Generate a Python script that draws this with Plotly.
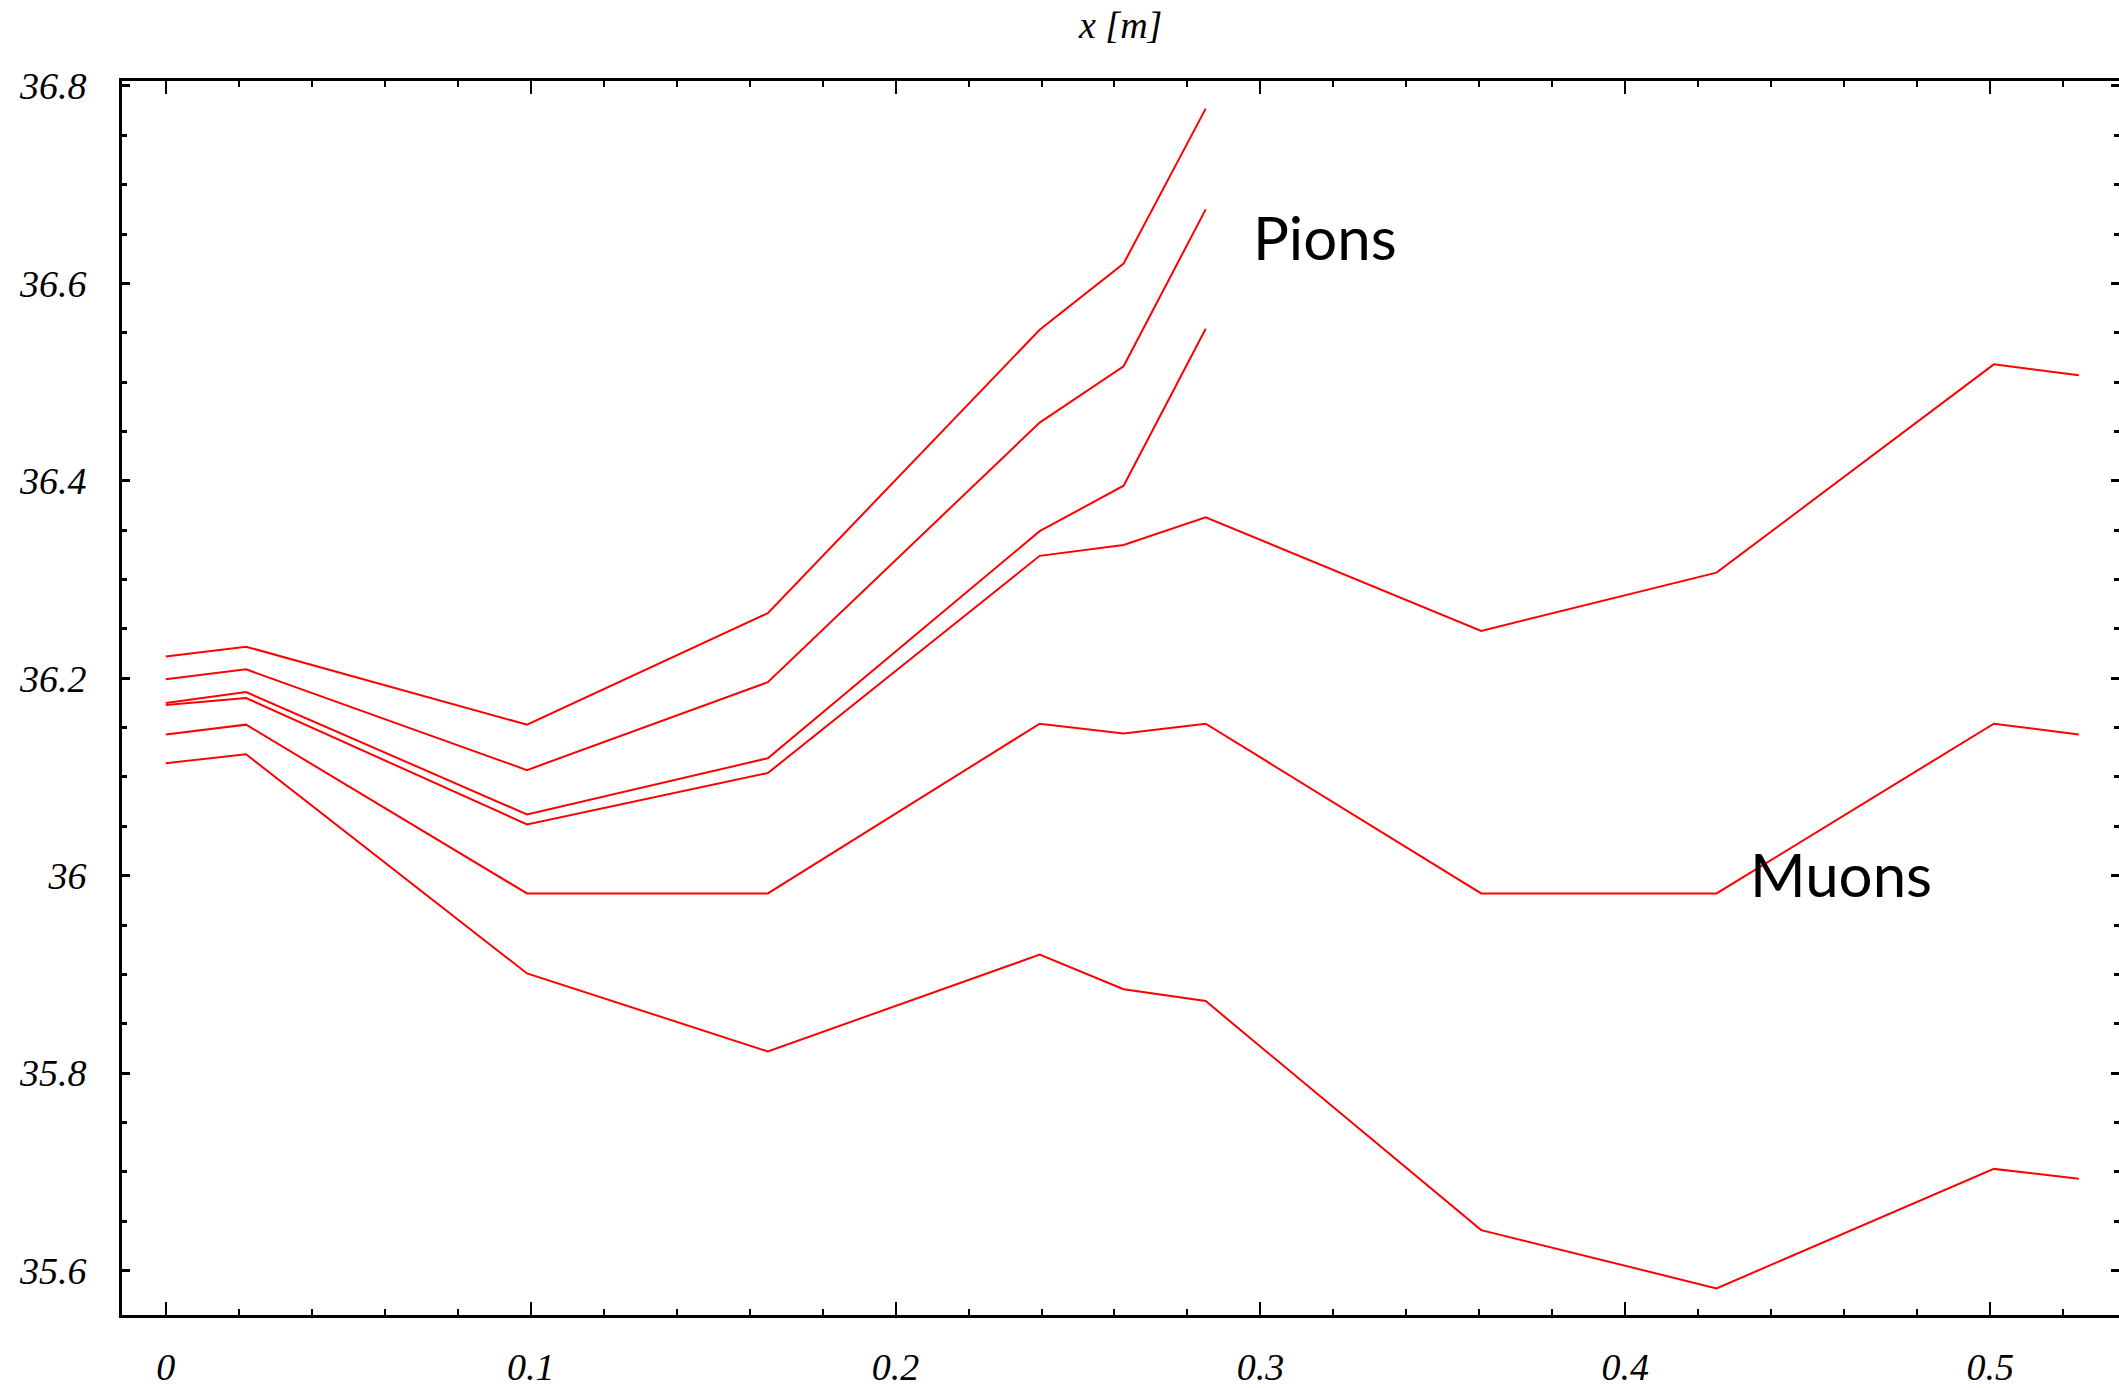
import plotly.graph_objects as go

# ---- data ----
x_pts = [0, 0.022, 0.099, 0.165, 0.2395, 0.2625, 0.285, 0.3605, 0.425, 0.501, 0.5243]

pion_1 = [36.222, 36.232, 36.153, 36.266, 36.553, 36.620, 36.777]
pion_2 = [36.199, 36.209, 36.107, 36.196, 36.459, 36.516, 36.675]
pion_3 = [36.175, 36.186, 36.062, 36.119, 36.349, 36.395, 36.554]

muon_1 = [36.173, 36.180, 36.052, 36.104, 36.324, 36.335, 36.363, 36.248, 36.307, 36.518, 36.507]
muon_2 = [36.143, 36.153, 35.982, 35.982, 36.154, 36.144, 36.154, 35.982, 35.982, 36.154, 36.143]
muon_3 = [36.114, 36.123, 35.901, 35.822, 35.920, 35.885, 35.873, 35.641, 35.582, 35.703, 35.693]

x_tickvals = [0, 0.1, 0.2, 0.3, 0.4, 0.5]
x_ticktext = ["0", "0.1", "0.2", "0.3", "0.4", "0.5"]
y_tickvals = [35.6, 35.8, 36.0, 36.2, 36.4, 36.6, 36.8]
y_ticktext = ["35.6", "35.8", "36", "36.2", "36.4", "36.6", "36.8"]

title_text = "x [m]"
label_pions = "Pions"
label_muons = "Muons"

X_RANGE = [-0.012, 0.5353]
Y_RANGE = [35.555, 36.805]

fig = go.Figure()

line_style = dict(color="#ff0000", width=2)
for ys in (pion_1, pion_2, pion_3):
    fig.add_trace(go.Scatter(x=x_pts[:len(ys)], y=ys, mode="lines", line=line_style,
                             showlegend=False, hoverinfo="skip"))
for ys in (muon_1, muon_2, muon_3):
    fig.add_trace(go.Scatter(x=x_pts[:len(ys)], y=ys, mode="lines", line=line_style,
                             showlegend=False, hoverinfo="skip"))

# invisible trace to host the right-side tick axis
fig.add_trace(go.Scatter(x=[None], y=[None], yaxis="y2", mode="lines",
                         showlegend=False, hoverinfo="skip"))

tick_font = dict(family="Liberation Serif", size=38, color="black", style="italic")

fig.update_layout(
    width=2119, height=1388,
    margin=dict(l=122, r=0, t=81, b=73, autoexpand=False),
    paper_bgcolor="white", plot_bgcolor="white",
    xaxis=dict(
        range=X_RANGE, showgrid=False, zeroline=False, automargin=False,
        showline=True, linecolor="black", linewidth=3, mirror="ticks",
        ticks="inside", ticklen=13, tickwidth=2, tickcolor="black",
        tickvals=x_tickvals, ticktext=x_ticktext, tickfont=tick_font,
        ticklabelstandoff=16,
        minor=dict(ticks="inside", dtick=0.02, tick0=0, ticklen=6, tickwidth=2,
                   tickcolor="black", showgrid=False),
    ),
    yaxis=dict(
        range=Y_RANGE, showgrid=False, zeroline=False, automargin=False,
        showline=True, linecolor="black", linewidth=3,
        ticks="inside", ticklen=8, tickwidth=3, tickcolor="black",
        tickvals=y_tickvals, ticktext=y_ticktext, tickfont=tick_font,
        ticklabelstandoff=25,
        minor=dict(ticks="inside", dtick=0.05, tick0=35.6, ticklen=5, tickwidth=3,
                   tickcolor="black", showgrid=False),
    ),
    yaxis2=dict(
        range=Y_RANGE, overlaying="y", side="right", anchor="x", automargin=False,
        showgrid=False, zeroline=False, showline=False,
        ticks="inside", ticklen=8, tickwidth=3, tickcolor="black",
        tickvals=y_tickvals, showticklabels=False,
        minor=dict(ticks="inside", dtick=0.05, tick0=35.6, ticklen=5, tickwidth=3,
                   tickcolor="black", showgrid=False),
    ),
    annotations=[
        dict(text=title_text, xref="paper", yref="paper", x=0.4995, y=1.045,
             xanchor="center", yanchor="middle", showarrow=False,
             font=dict(family="Liberation Serif", size=38, color="black", style="italic")),
        dict(text=label_pions, xref="x", yref="y", x=0.2975, y=36.647,
             xanchor="left", yanchor="middle", showarrow=False,
             font=dict(family="Lato", size=60, color="black")),
        dict(text=label_muons, xref="x", yref="y", x=0.4336, y=36.002,
             xanchor="left", yanchor="middle", showarrow=False,
             font=dict(family="Lato", size=60, color="black")),
    ],
)

fig.write_html(
    "out.html",
    config={"displayModeBar": False},
    post_script="document.body.style.margin='0';document.body.style.overflow='hidden';",
)
